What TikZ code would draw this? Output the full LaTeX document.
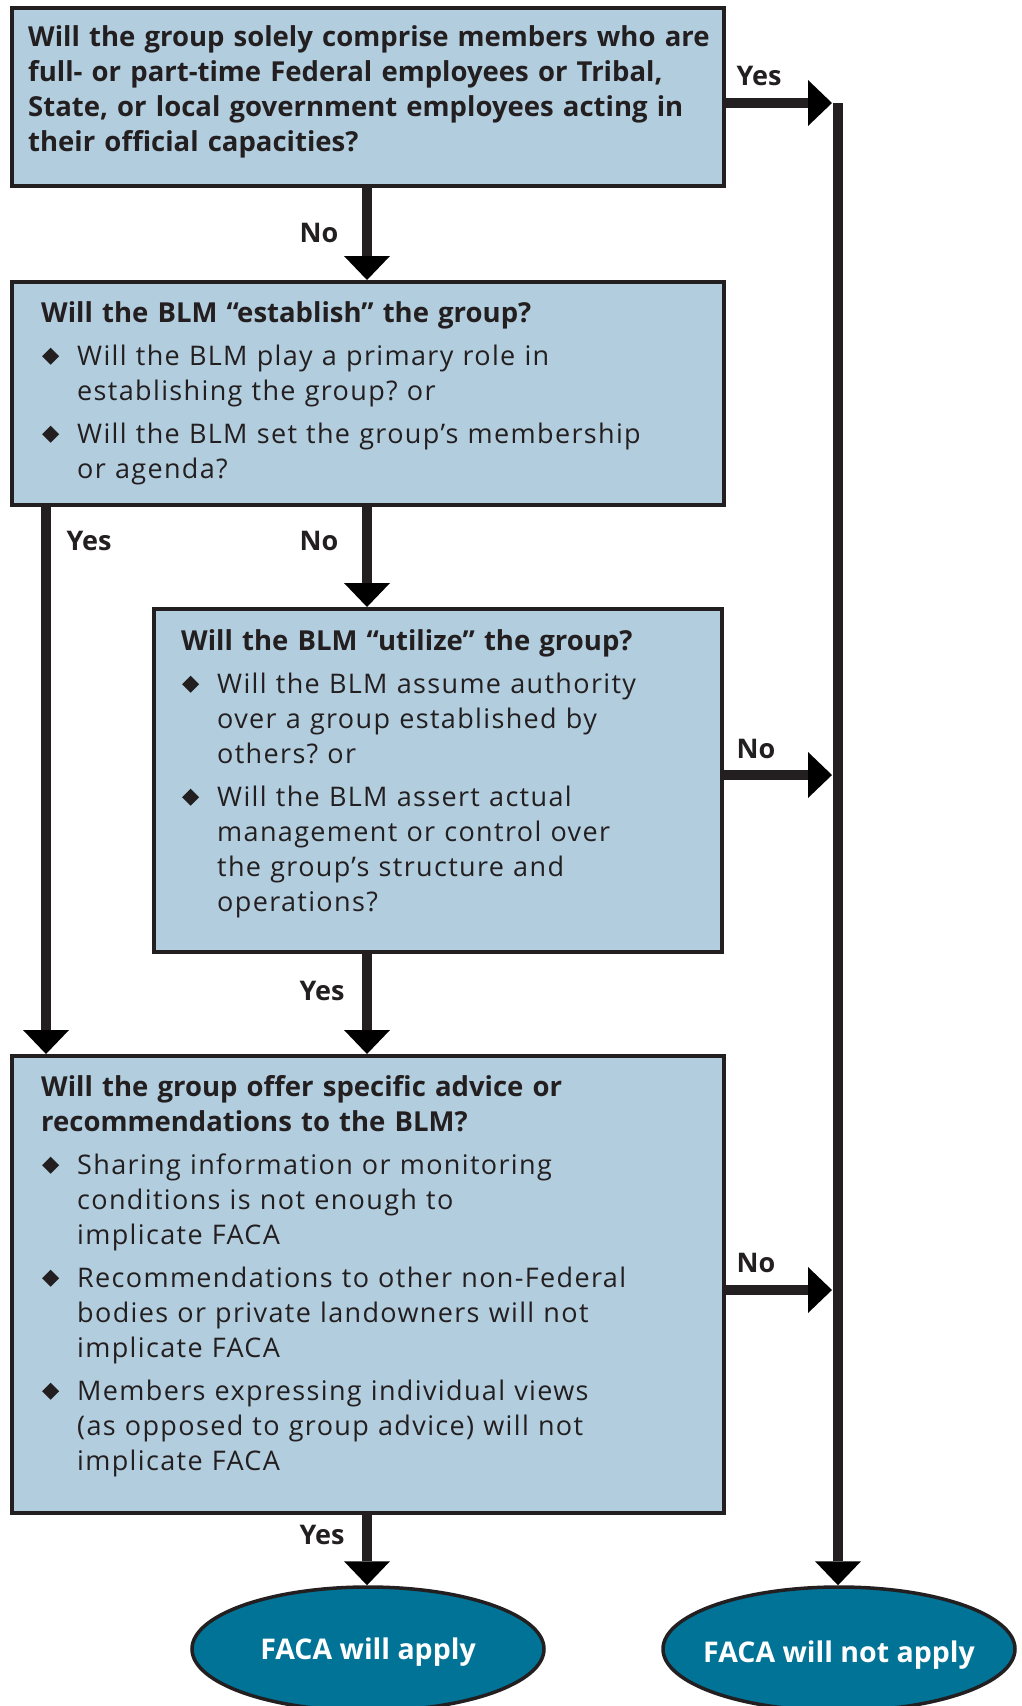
\documentclass[tikz,border=0pt]{standalone}
\usepackage{fontspec}
\setmainfont{Open Sans}
\newfontfamily\bulfont{Open Sans}[LetterSpace=5]
\usetikzlibrary{arrows.meta,shapes.geometric}
\definecolor{boxfill}{HTML}{B2CDDE}
\definecolor{teal}{HTML}{007396}
\definecolor{dark}{HTML}{231F20}
\frenchspacing
\newcommand{\dia}{\makebox[36pt][l]{\hspace{1pt}\tikz[baseline=-9pt]\fill[dark] (0pt,0pt) -- (8.5pt,8.5pt) -- (17pt,0pt) -- (8.5pt,-8.5pt) -- cycle;}}
\newcommand{\bitem}[1]{\par\vspace{8pt}\noindent\hangindent=36pt\hangafter=1\dia{\bulfont\fontsize{27}{35}\selectfont\frenchspacing #1\par}}
\newcommand{\hd}{\fontsize{27.5}{35}\selectfont\bfseries}
\tikzset{
  qbox/.style={draw=dark, line width=3.5pt, fill=boxfill, rectangle, inner sep=0pt, anchor=north west},
  qtext/.style={anchor=north west, inner sep=0pt, align=left, font=\fontsize{27.5}{35}\selectfont, text=dark},
  lbl/.style={font=\fontsize{27}{30}\selectfont\bfseries, text=dark, inner sep=0pt},
  arr/.style={draw=dark, line width=10pt, -{Triangle[width=46pt,length=24pt,line width=0pt]}},
  endo/.style={ellipse, draw=dark, line width=3.5pt, fill=teal, minimum width=352pt, minimum height=124pt, inner sep=0pt, text=white, font=\fontsize{28.5}{30}\selectfont\bfseries},
}
\begin{document}
\begin{tikzpicture}[x=1pt,y=-1pt]
\path[use as bounding box, clip] (0,0) rectangle (1021,1706);
\fill[white] (0,0) rectangle (1021,1706);
% boxes
\node[qbox, minimum width=712pt, minimum height=178pt] (b1) at (10,6) {};
\node[qbox, minimum width=712pt, minimum height=223pt] (b2) at (10,280) {};
\node[qbox, minimum width=568pt, minimum height=343pt] (b3) at (152,607) {};
\node[qbox, minimum width=712pt, minimum height=457pt] (b4) at (10,1054) {};
% texts
\node[qtext, text width=690pt] (t1) at (28,22) {\hd\strut Will the group solely comprise members who are\\ full- or part-time Federal employees or Tribal,\\ State, or local government employees acting in\\ their official capacities?};
\node[qtext, text width=670pt] (t2) at (41,297.5) {\strut{\hd Will the BLM “establish” the group?}
\bitem{Will the BLM play a primary role in\newline establishing the group? or}
\bitem{Will the BLM set the group’s membership\newline or agenda?}};
\node[qtext, text width=540pt] (t3) at (181,625.5) {\strut{\hd Will the BLM “utilize” the group?}
\bitem{Will the BLM assume authority\newline over a group established by\newline others? or}
\bitem{Will the BLM assert actual\newline management or control over\newline the group’s structure and\newline operations?}};
\node[qtext, text width=670pt] (t4) at (41,1071.5) {\strut{\hd Will the group offer specific advice or\newline recommendations to the BLM?}
\bitem{Sharing information or monitoring\newline conditions is not enough to\newline implicate FACA}
\bitem{Recommendations to other non-Federal\newline bodies or private landowners will not\newline implicate FACA}
\bitem{Members expressing individual views\newline (as opposed to group advice) will not\newline implicate FACA}};
% end nodes
\node[endo] (e1) at (368,1649) {\makebox[0pt]{\raisebox{-10.5pt}[0pt][0pt]{FACA will apply}}};
\node[endo] (e2) at (839,1649) {\makebox[0pt]{\raisebox{-13.5pt}[0pt][0pt]{FACA will not apply}}};
% coordinates
\coordinate (r1) at (832,103);
\coordinate (r3) at (832,775);
\coordinate (r4) at (832,1290);
\coordinate (rtop) at (838,103);
\coordinate (lx) at (46,0);
\coordinate (mx) at (367,0);
% connectors
\draw[arr] (b1.east |- r1) -- (r1);
\draw[arr] (b3.east |- r3) -- (r3);
\draw[arr] (b4.east |- r4) -- (r4);
\draw[arr] (rtop) -- (rtop |- e2.north);
\draw[arr] (b1.south -| mx) -- (b2.north -| mx);
\draw[arr] (b2.south -| mx) -- (b3.north -| mx);
\draw[arr] (b3.south -| mx) -- (b4.north -| mx);
\draw[arr] (b4.south -| mx) -- (mx |- e1.north);
\draw[arr] (b2.south -| lx) -- (b4.north -| lx);
% labels
\node[lbl] (l1) at (759,76) {Yes};
\node[lbl] (l2) at (319,233) {No};
\node[lbl] (l3) at (89,541) {Yes};
\node[lbl] (l4) at (319,541) {No};
\node[lbl] (l5) at (756,749) {No};
\node[lbl] (l6) at (322,991) {Yes};
\node[lbl] (l7) at (756,1263) {No};
\node[lbl] (l8) at (322,1535) {Yes};
\end{tikzpicture}
\end{document}
